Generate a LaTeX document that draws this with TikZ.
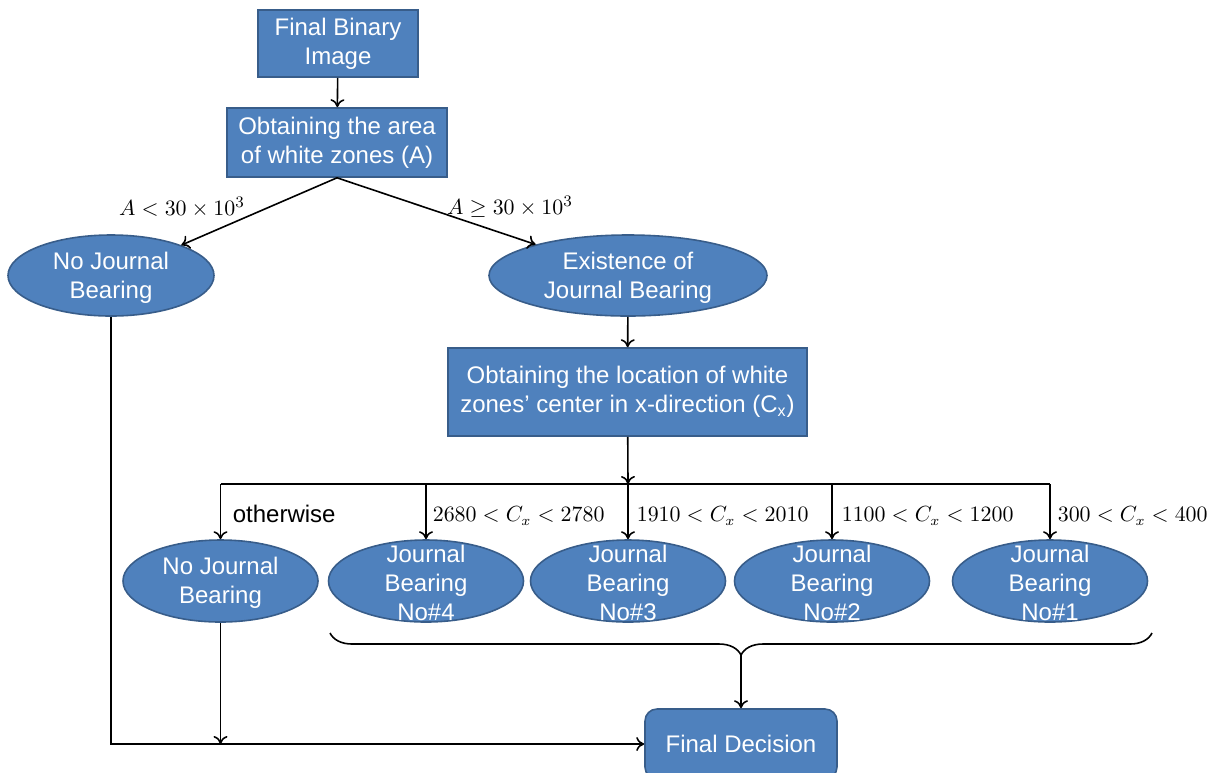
\documentclass[tikz,border=0pt]{standalone}
\usepackage{amsmath,amssymb}
\usepackage{fontspec}
\setmainfont{Liberation Sans}
\usepackage{tikz}
\usetikzlibrary{arrows,arrows.meta,positioning,calc,shapes.geometric,decorations.pathreplacing}
\definecolor{boxblue}{HTML}{4F81BD}
\definecolor{edgeblue}{HTML}{385D8A}

\begin{document}
\begin{tikzpicture}[x=0.5pt,y=-0.5pt,line width=0.8pt,
  boxtext/.style={font=\fontsize{12}{14.5}\selectfont, text=white, align=center, yshift=-1pt},
  procbox/.style={rectangle, draw=edgeblue, fill=boxblue, line width=0.8pt, inner sep=0pt, font=\fontsize{12}{14.5}\selectfont, text=white, align=center},
  decisionell/.style={ellipse, draw=edgeblue, fill=boxblue, line width=0.8pt, inner sep=0pt},
  condlabel/.style={anchor=west, inner sep=0pt, font=\fontsize{10.7}{13}\selectfont},
  >={To[length=4pt,width=7pt]}]
\useasboundingbox (0,0) rectangle (1213,772);
% top part
\node[procbox, minimum width=80pt, minimum height=33.5pt] (binimg) at (338,43.5) {Final Binary\\Image};
\node[procbox, minimum width=110pt, minimum height=34.5pt] (area) at (337,142.5) {Obtaining the area\\of white zones (A)};
\node[decisionell, minimum width=103pt, minimum height=40.5pt, label={[boxtext]center:No Journal\\Bearing}] (nojb) at (111,275.5) {};
\node[decisionell, minimum width=139pt, minimum height=40.5pt, label={[boxtext]center:Existence of\\Journal Bearing}] (exist) at (628,275.5) {};
\node[procbox, minimum width=179.5pt, minimum height=44pt] (loc) at (627.5,392) {Obtaining the location of white\\zones’ center in x-direction (C\textsubscript{x})};
\draw[->] (binimg) -- (area);
\draw[->] (area.south) -- (nojb);
\draw[->] (area.south) -- (exist);
\node[font=\fontsize{11.3}{14}\selectfont] (lowA) at (182,207) {$A<30\times10^{3}$};
\node[font=\fontsize{11.3}{14}\selectfont] (highA) at (510,207) {$A\geq30\times10^{3}$};
\draw[->] (exist) -- (loc);
% second row
\node[decisionell, minimum width=97.5pt, minimum height=41pt, label={[boxtext]center:No Journal\\Bearing}] (nojbb) at (220.5,581) {};
\node[decisionell, minimum width=97.5pt, minimum height=41pt, label={[boxtext]center:Journal\\Bearing\\No\#4}] (jbfour) at (426,581) {};
\node[decisionell, minimum width=97.5pt, minimum height=41pt, label={[boxtext]center:Journal\\Bearing\\No\#3}] (jbthree) at (628,581) {};
\node[decisionell, minimum width=97.5pt, minimum height=41pt, label={[boxtext]center:Journal\\Bearing\\No\#2}] (jbtwo) at (832,581) {};
\node[decisionell, minimum width=97.5pt, minimum height=41pt, label={[boxtext]center:Journal\\Bearing\\No\#1}] (jbone) at (1050,581) {};
\coordinate (bus) at (628,484);
\draw[->] (loc) -- (bus);
\draw (nojbb.north |- bus) -- (jbone.north |- bus);
\foreach \n in {nojbb,jbfour,jbthree,jbtwo,jbone}
  \draw[->] (\n.north |- bus) -- (\n.north);
\node[anchor=west, inner sep=0pt, font=\fontsize{12}{14}\selectfont] (other) at (232,514) {otherwise};
\node[condlabel] (cfour) at (432,516) {$2680<C_x<2780$};
\node[condlabel] (cthree) at (636,516) {$1910<C_x<2010$};
\node[condlabel] (ctwo) at (841,516) {$1100<C_x<1200$};
\node[condlabel] (cone) at (1057,516) {$300<C_x<400$};
% final decision
\node[procbox, rounded corners=6pt, minimum width=96pt, minimum height=35pt] (decision) at (741,744) {Final Decision};
\coordinate (braceL) at (330,633);
\coordinate (braceR) at (1152,633);
\coordinate (braceTip) at (741,655);
\draw[decorate, decoration={brace, mirror, amplitude=11pt}] (braceL) -- (braceR);
\draw[->] (braceTip) -- (decision);
\draw[->] (nojb.south) |- (decision.west);
\draw[->] (nojbb.south) -- (nojbb.south |- decision.west);
\end{tikzpicture}
\end{document}
